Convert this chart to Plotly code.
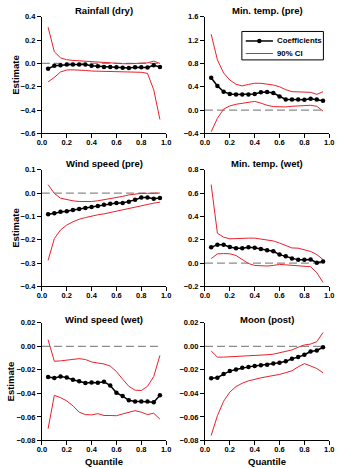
import plotly.graph_objects as go

W, H = 342, 468

quantiles = [0.05, 0.10, 0.15, 0.20, 0.25, 0.30, 0.35, 0.40, 0.45, 0.50,
             0.55, 0.60, 0.65, 0.70, 0.75, 0.80, 0.85, 0.90, 0.95]

titles = ["Rainfall (dry)", "Min. temp. (pre)", "Wind speed (pre)",
          "Min. temp. (wet)", "Wind speed (wet)", "Moon (post)"]

legend_labels = ["Coefficients", "90% CI"]

# Rainfall (dry)
rain_coef = [-0.045, -0.020, -0.015, -0.010, -0.010, -0.010, -0.010, -0.020, -0.025, -0.030,
             -0.030, -0.033, -0.036, -0.040, -0.033, -0.033, -0.035, -0.015, -0.030]
rain_hi = [0.31, 0.10, 0.048, 0.032, 0.026, 0.022, 0.018, 0.014, 0.010, 0.006,
           0.003, 0.000, -0.002, -0.003, -0.002, 0.000, 0.005, 0.020, 0.000]
rain_lo = [-0.158, -0.120, -0.073, -0.056, -0.055, -0.056, -0.060, -0.065, -0.067, -0.070,
           -0.071, -0.072, -0.073, -0.073, -0.074, -0.076, -0.085, -0.226, -0.480]

# Min. temp. (pre)
tpre_coef = [0.554, 0.415, 0.316, 0.277, 0.266, 0.266, 0.266, 0.277, 0.305, 0.310,
             0.294, 0.233, 0.183, 0.183, 0.183, 0.177, 0.194, 0.183, 0.160]
tpre_hi = [1.30, 0.86, 0.637, 0.515, 0.443, 0.415, 0.440, 0.460, 0.460, 0.450,
           0.430, 0.400, 0.350, 0.316, 0.316, 0.305, 0.305, 0.270, 0.316]
tpre_lo = [-0.37, -0.14, 0.017, 0.072, 0.100, 0.120, 0.138, 0.150, 0.120, 0.083,
           0.060, 0.055, 0.055, 0.066, 0.072, 0.083, 0.083, 0.066, -0.017]

# Wind speed (pre)
wpre_coef = [-0.091, -0.086, -0.080, -0.078, -0.072, -0.068, -0.064, -0.060, -0.055, -0.050,
             -0.046, -0.042, -0.042, -0.037, -0.029, -0.019, -0.019, -0.024, -0.021]
wpre_hi = [0.036, -0.001, -0.022, -0.029, -0.033, -0.036, -0.037, -0.036, -0.033, -0.029,
           -0.024, -0.019, -0.014, -0.008, -0.004, -0.001, -0.001, 0.000, 0.000]
wpre_lo = [-0.288, -0.195, -0.158, -0.137, -0.123, -0.112, -0.105, -0.098, -0.093, -0.089,
           -0.083, -0.078, -0.073, -0.068, -0.061, -0.054, -0.048, -0.043, -0.039]

# Min. temp. (wet)
twet_coef = [0.135, 0.158, 0.158, 0.138, 0.127, 0.127, 0.135, 0.132, 0.121, 0.110,
             0.101, 0.073, 0.059, 0.039, 0.028, 0.028, 0.031, 0.003, 0.014]
twet_hi = [0.673, 0.256, 0.222, 0.208, 0.210, 0.214, 0.214, 0.214, 0.207, 0.200,
           0.190, 0.172, 0.150, 0.130, 0.128, 0.115, 0.100, 0.073, 0.031]
twet_lo = [0.039, 0.079, 0.082, 0.080, 0.065, 0.031, -0.003, -0.020, -0.023, -0.025,
           -0.020, -0.011, -0.015, -0.020, -0.023, -0.025, -0.031, -0.082, -0.166]

# Wind speed (wet)
wwet_coef = [-0.0260, -0.0270, -0.0257, -0.0265, -0.0285, -0.0298, -0.0312, -0.0307, -0.0310, -0.0301,
             -0.0334, -0.0395, -0.0423, -0.0459, -0.0470, -0.0470, -0.0470, -0.0475, -0.0417]
wwet_hi = [0.0055, -0.0127, -0.0124, -0.0116, -0.0108, -0.0105, -0.0112, -0.0133, -0.0142, -0.0150,
           -0.0168, -0.0215, -0.0280, -0.0340, -0.0373, -0.0376, -0.0340, -0.0257, -0.0077]
wwet_lo = [-0.0700, -0.0417, -0.0436, -0.0464, -0.0506, -0.0560, -0.0580, -0.0583, -0.0572, -0.0588,
           -0.0588, -0.0590, -0.0575, -0.0560, -0.0547, -0.0560, -0.0580, -0.0569, -0.0619]

# Moon (post)
moon_coef = [-0.0272, -0.0267, -0.0236, -0.0211, -0.0197, -0.0183, -0.0175, -0.0167, -0.0161, -0.0156,
             -0.0147, -0.0139, -0.0128, -0.0106, -0.0092, -0.0072, -0.0044, -0.0036, -0.0008]
moon_hi = [-0.0040, -0.0092, -0.0092, -0.0090, -0.0088, -0.0086, -0.0082, -0.0078, -0.0075, -0.0072,
           -0.0067, -0.0056, -0.0044, -0.0031, -0.0008, 0.0011, 0.0019, 0.0039, 0.0117]
moon_lo = [-0.0758, -0.0590, -0.0467, -0.0389, -0.0342, -0.0314, -0.0294, -0.0278, -0.0268, -0.0258,
           -0.0249, -0.0239, -0.0224, -0.0208, -0.0175, -0.0147, -0.0167, -0.0189, -0.0225]

coefs = [rain_coef, tpre_coef, wpre_coef, twet_coef, wwet_coef, moon_coef]
his = [rain_hi, tpre_hi, wpre_hi, twet_hi, wwet_hi, moon_hi]
los = [rain_lo, tpre_lo, wpre_lo, twet_lo, wwet_lo, moon_lo]

y_ranges = [(-0.6, 0.4), (-0.4, 1.6), (-0.4, 0.1), (-0.2, 0.8), (-0.08, 0.02), (-0.08, 0.02)]
y_dticks = [0.2, 0.4, 0.1, 0.2, 0.02, 0.02]
y_formats = [".1f", ".1f", ".1f", ".1f", ".2f", ".2f"]
x_ticks = [0.0, 0.2, 0.4, 0.6, 0.8, 1.0]
zero_line_x = [0.0, 0.95]

FONT = "Liberation Sans, Arial, sans-serif"
RED = "#e8212b"

# panel pixel boxes (left, right, top, bottom)
cols_px = [(38, 166), (206, 334)]
rows_px = [(13, 132), (169, 288), (325, 445)]
title_y_px = [7, 162.5, 322]


def px(xp):
    return xp / W


def py(yp):
    return 1 - yp / H


fig = go.Figure()
layout = dict(
    width=W, height=H, margin=dict(l=0, r=0, t=0, b=0),
    paper_bgcolor="white", plot_bgcolor="white",
    font=dict(family=FONT, color="black"),
    showlegend=False,
)
annotations = []
shapes = []

for i in range(6):
    r, c = divmod(i, 2)
    n = i + 1
    xa = "x" if n == 1 else f"x{n}"
    ya = "y" if n == 1 else f"y{n}"
    xl, xr = cols_px[c]
    yt, yb = rows_px[r]
    layout[f"xaxis{'' if n == 1 else n}"] = dict(
        domain=[px(xl), px(xr)], anchor=ya, range=[0, 1.0],
        tickvals=x_ticks, tickformat=".1f",
        showline=True, linecolor="black", linewidth=1, mirror=False,
        ticks="outside", ticklen=4, tickwidth=1, tickcolor="black",
        showgrid=False, zeroline=False, ticklabelstandoff=-2,
        tickfont=dict(family=FONT, size=7.5, weight="bold"),
    )
    y0, y1 = y_ranges[i]
    layout[f"yaxis{'' if n == 1 else n}"] = dict(
        domain=[py(yb), py(yt)], anchor=xa, range=[y0, y1],
        tick0=y0, dtick=y_dticks[i], tickformat=y_formats[i],
        showline=True, linecolor="black", linewidth=1, mirror=False,
        ticks="outside", ticklen=4, tickwidth=1, tickcolor="black",
        showgrid=False, zeroline=False,
        tickfont=dict(family=FONT, size=7.5, weight="bold"),
    )
    shapes.append(dict(type="line", xref=xa, yref=ya, x0=zero_line_x[0], x1=zero_line_x[1],
                       y0=0, y1=0, layer="below",
                       line=dict(color="#8c8c8c", width=1.2, dash="8px,4px")))
    fig.add_trace(go.Scatter(x=quantiles, y=his[i], mode="lines", xaxis=xa, yaxis=ya,
                             line=dict(color=RED, width=1), name=legend_labels[1]))
    fig.add_trace(go.Scatter(x=quantiles, y=los[i], mode="lines", xaxis=xa, yaxis=ya,
                             line=dict(color=RED, width=1), name=legend_labels[1]))
    fig.add_trace(go.Scatter(x=quantiles, y=coefs[i], mode="lines+markers", xaxis=xa, yaxis=ya,
                             line=dict(color="black", width=1.5),
                             marker=dict(color="black", size=4.5),
                             name=legend_labels[0]))
    annotations.append(dict(text=titles[i], xref="paper", yref="paper",
                            x=px((xl + xr) / 2), y=py(title_y_px[r]),
                            xanchor="center", yanchor="middle", showarrow=False,
                            font=dict(family=FONT, size=9.5, weight="bold")))
    if c == 0:
        annotations.append(dict(text="Estimate", xref="paper", yref="paper",
                                x=px(10 if r < 2 else 6), y=py((yt + yb) / 2),
                                xanchor="center", yanchor="middle", showarrow=False,
                                textangle=-90,
                                font=dict(family=FONT, size=9.5, weight="bold")))
    if r == 2:
        annotations.append(dict(text="Quantile", xref="paper", yref="paper",
                                x=px((xl + xr) / 2), y=py(466),
                                xanchor="center", yanchor="middle", showarrow=False,
                                font=dict(family=FONT, size=9.5, weight="bold")))

# Legend box (drawn in paper space inside the Min. temp. (pre) panel)
LEG = dict(x0=244, x1=328, y0=28, y1=57)
shapes.append(dict(type="rect", xref="paper", yref="paper",
                   x0=px(LEG["x0"]), x1=px(LEG["x1"]), y0=py(LEG["y1"]), y1=py(LEG["y0"]),
                   line=dict(color="black", width=1), fillcolor="white", layer="above"))
leg_rows = [37.7, 50.5]
sample_x = (248, 276)
shapes.append(dict(type="line", xref="paper", yref="paper",
                   x0=px(sample_x[0]), x1=px(sample_x[1]), y0=py(leg_rows[0]), y1=py(leg_rows[0]),
                   line=dict(color="black", width=1.5), layer="above"))
mx = (sample_x[0] + sample_x[1]) / 2
shapes.append(dict(type="circle", xref="paper", yref="paper",
                   x0=px(mx - 2.3), x1=px(mx + 2.3), y0=py(leg_rows[0] + 2.3), y1=py(leg_rows[0] - 2.3),
                   line=dict(color="black", width=0), fillcolor="black", layer="above"))
shapes.append(dict(type="line", xref="paper", yref="paper",
                   x0=px(sample_x[0]), x1=px(sample_x[1]), y0=py(leg_rows[1]), y1=py(leg_rows[1]),
                   line=dict(color=RED, width=1), layer="above"))
for lab, ry in zip(legend_labels, leg_rows):
    annotations.append(dict(text=lab, xref="paper", yref="paper",
                            x=px(278), y=py(ry), xanchor="left", yanchor="middle",
                            showarrow=False,
                            font=dict(family=FONT, size=7.8, weight="bold")))

layout["annotations"] = annotations
layout["shapes"] = shapes
fig.update_layout(**layout)
fig.write_html("out.html")
